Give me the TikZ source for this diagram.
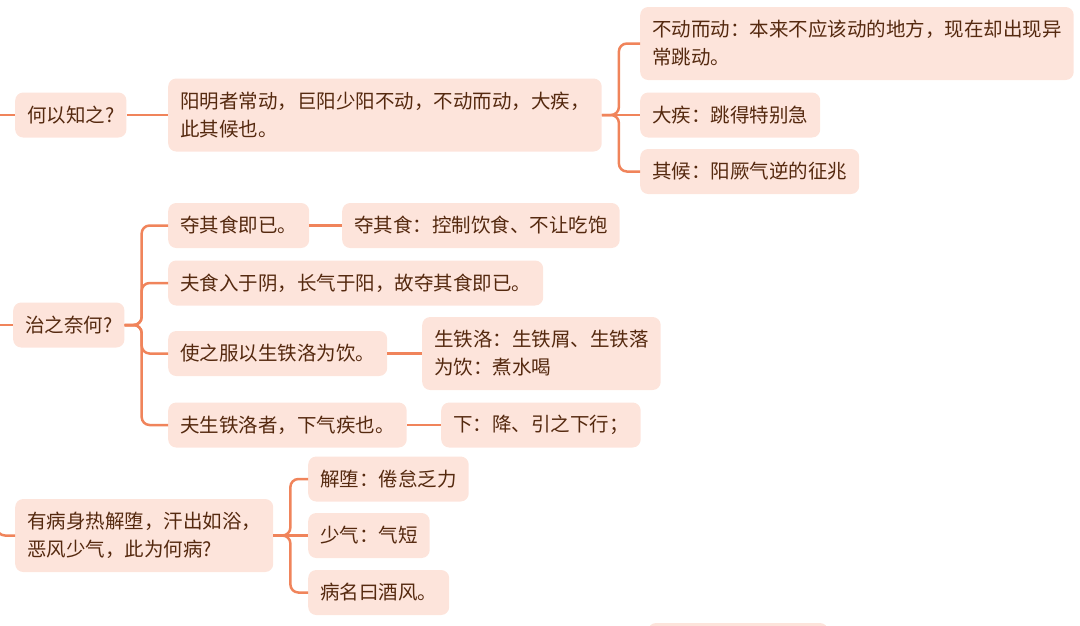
\documentclass[tikz,border=0pt]{standalone}
\usepackage{fontspec}
\newfontfamily\cjk{Noto Sans CJK SC}
\usetikzlibrary{positioning}
\definecolor{boxfill}{HTML}{FDE4DB}
\definecolor{linkline}{HTML}{F0845B}
\definecolor{boxtext}{HTML}{55290F}
\tikzset{
  idea/.style = {
    rectangle, rounded corners=8pt, fill=boxfill, text=boxtext,
    anchor=west, align=left, inner xsep=12pt, inner ysep=0pt,
    minimum height=#1, font=\cjk\fontsize{19.5}{28}\selectfont
  },
  idea/.default = 45pt,
  link/.style = {draw=linkline, line width=2.5pt, rounded corners=8pt}
}

\begin{document}
\begin{tikzpicture}[x=1pt,y=-1pt]
\useasboundingbox (0,0) rectangle (1080,625);

% --- first question -------------------------------------------------------
\node[idea] (howknow) at (15,115) {何以知之?};
\node[idea=73pt] (sign) at (168,115)
     {阳明者常动，巨阳少阳不动，不动而动，大疾，\\此其候也。};
\node[idea=73pt] (moving) at (640,43.5)
     {不动而动：本来不应该动的地方，现在却出现异\\常跳动。};
\node[idea] (great)  at (640,115) {大疾：跳得特别急};
\node[idea] (omen)   at (640,171.5) {其候：阳厥气逆的征兆};

% --- second question ------------------------------------------------------
\node[idea] (treat)  at (13,325) {治之奈何?};
\node[idea] (fast)   at (168,225.5) {夺其食即已。};
\node[idea] (fastx)  at (342,225.5) {夺其食：控制饮食、不让吃饱};
\node[idea] (food)   at (168,283) {夫食入于阴，长气于阳，故夺其食即已。};
\node[idea] (iron)   at (168,353.5) {使之服以生铁洛为饮。};
\node[idea=73pt] (ironx) at (422,353.5) {生铁洛：生铁屑、生铁落\\为饮：煮水喝};
\node[idea] (down)   at (168,425) {夫生铁洛者，下气疾也。};
\node[idea] (downx)  at (441,425) {下：降、引之下行；};

% --- third question -------------------------------------------------------
\node[idea=73pt] (illness) at (15,535.5) {有病身热解堕，汗出如浴，\\恶风少气，此为何病?};
\node[idea] (weary)  at (308,479) {解堕：倦怠乏力};
\node[idea] (breath) at (308,535.5) {少气：气短};
\node[idea] (wine)   at (308,592.5) {病名曰酒风。};

% --- next box, cut by the page edge ---------------------------------------
\fill[boxfill, rounded corners=8pt] (648,623) rectangle (828,660);

% --- lines coming in from the root ----------------------------------------
\coordinate (rootA) at (0,115);
\coordinate (rootB) at (0,325);
\coordinate (rootC) at (-3,515);
\draw[link] (rootA) -- (howknow.west);
\draw[link] (rootB) -- (treat.west);
\draw[link] (rootC) |- (illness.west);

% --- branches -------------------------------------------------------------
\draw[link] (howknow.east) -- (sign.west);
\draw[link] (sign.east) -- ++(17,0) |- (moving.west);
\draw[link] (sign.east) -- (great.west);
\draw[link] (sign.east) -- ++(17,0) |- (omen.west);

\draw[link] (treat.east) -- ++(17,0) |- (fast.west);
\draw[link] (treat.east) -- ++(17,0) |- (food.west);
\draw[link] (treat.east) -- ++(17,0) |- (iron.west);
\draw[link] (treat.east) -- ++(17,0) |- (down.west);
\draw[link] (fast.east) -- (fastx.west);
\draw[link] (iron.east) -- (ironx.west);
\draw[link] (down.east) -- (downx.west);

\draw[link] (illness.east) -- ++(17,0) |- (weary.west);
\draw[link] (illness.east) -- (breath.west);
\draw[link] (illness.east) -- ++(17,0) |- (wine.west);

\end{tikzpicture}
\end{document}
